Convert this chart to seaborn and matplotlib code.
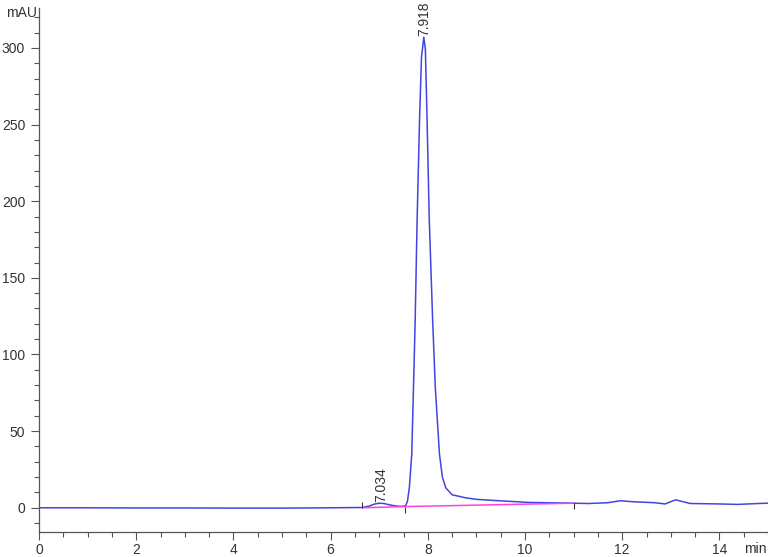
import matplotlib
matplotlib.use("Agg")
import matplotlib.pyplot as plt
import pandas as pd
import seaborn as sns
from matplotlib.ticker import MultipleLocator

# chromatogram trace (min, mAU)
time_min = [
    0.0, 1.0, 2.0, 3.0, 4.0, 5.0, 6.0, 6.65, 6.8, 6.9, 7.0, 7.1, 7.2, 7.3,
    7.4, 7.5, 7.54, 7.58, 7.62, 7.67, 7.705, 7.74, 7.78, 7.83, 7.87, 7.918,
    7.95, 7.985, 8.03, 8.10, 8.155, 8.24, 8.30, 8.37, 8.50, 8.78, 9.0, 9.47,
    10.08, 11.0, 11.3, 11.7, 11.96, 12.2, 12.68, 12.88, 13.1, 13.4, 14.0,
    14.38, 14.8, 15.0,
]
signal_mau = [
    0.0, 0.0, -0.1, -0.1, -0.2, -0.2, 0.0, 0.2, 1.2, 2.4, 3.0, 2.8, 2.0, 1.4,
    1.0, 1.0, 1.3, 4.0, 13.0, 35.0, 78.0, 122.0, 188.0, 253.0, 294.0, 307.0,
    299.0, 253.0, 188.0, 122.0, 78.0, 35.0, 20.0, 13.0, 8.5, 6.5, 5.5, 4.6,
    3.5, 3.0, 2.8, 3.3, 4.6, 4.0, 3.3, 2.5, 5.2, 2.8, 2.5,
    2.2, 2.8, 3.0,
]

# integration baseline and events
baseline_t = [6.65, 7.53, 11.0]
baseline_v = [0.0, 0.8, 3.0]
event_dir = [1, -1, -1]

peak_rt = [7.034, 7.918]
peak_h = [3.0, 307.0]
peak_labels = ["7.034", "7.918"]

trace = pd.DataFrame({"t": time_min, "mAU": signal_mau})

sns.set_style("white")
plt.rcParams["font.family"] = ["Liberation Sans", "DejaVu Sans"]

fig = plt.figure(figsize=(7.68, 5.57), dpi=100)
ax = fig.add_axes([0.0508, 0.0443, 0.9492, 0.9413])

sns.lineplot(data=trace, x="t", y="mAU", ax=ax, color="#4444e2", lw=1.1,
             estimator=None, sort=False)
ax.plot(baseline_t, baseline_v, color="#ff40e0", lw=1.1)
for t, v, d in zip(baseline_t, baseline_v, event_dir):
    ax.vlines(t, v, v + 4.0 * d, color="#333333", lw=0.8)

for rt, h, lab in zip(peak_rt, peak_h, peak_labels):
    ax.text(rt, h + 1.0, lab, rotation=90, ha="center", va="bottom",
            fontsize=10, color="#333333")

ax.set_xlim(0, 15)
ax.set_ylim(-16, 326)
ax.xaxis.set_major_locator(MultipleLocator(2))
ax.xaxis.set_minor_locator(MultipleLocator(0.5))
ax.yaxis.set_major_locator(MultipleLocator(50))
ax.yaxis.set_minor_locator(MultipleLocator(10))
ax.tick_params(axis="both", which="major", length=6, width=0.8,
               color="#555555", labelsize=10, labelcolor="#333333")
ax.tick_params(axis="both", which="minor", length=3.5, width=0.8,
               color="#555555")
ax.tick_params(axis="x", which="major", pad=1.5)
ax.tick_params(axis="y", which="major", pad=4)
ax.tick_params(axis="x", bottom=True, which="both")
ax.tick_params(axis="y", left=True, which="both")
ax.set_xlabel("")
ax.set_ylabel("")
for side in ["top", "right"]:
    ax.spines[side].set_visible(False)
for side in ["left", "bottom"]:
    ax.spines[side].set_color("#555555")
    ax.spines[side].set_linewidth(0.9)

fig.text(6 / 768, 1 - 13 / 557, "mAU", fontsize=10, color="#333333",
         va="center", ha="left")
fig.text(744 / 768, 1 - 549 / 557, "min", fontsize=10, color="#333333",
         va="center", ha="left")

fig.savefig("out.png", dpi=100)
